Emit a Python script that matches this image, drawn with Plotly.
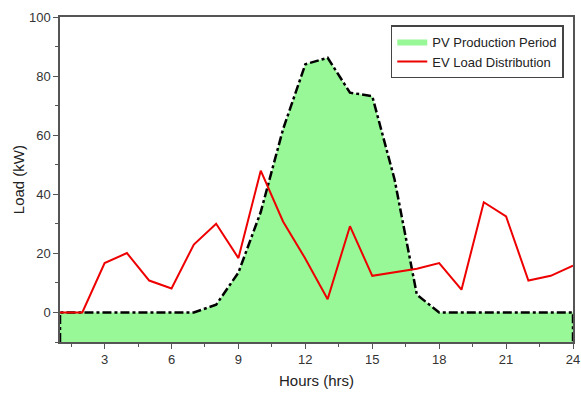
import plotly.graph_objects as go

hours = list(range(1, 25))
pv_load = [0, 0, 0, 0, 0, 0, 0, 2.6, 13.5, 34, 62, 84, 86.2, 74.4, 73.2, 45, 6, 0, 0, 0, 0, 0, 0, 0]
ev_load = [0, 0, 16.7, 20.1, 10.8, 8.1, 23, 30, 18.4, 48, 30.8, 18.2, 4.5, 29.2, 12.4, 13.5, 14.8, 16.7, 7.7, 37.3, 32.5, 10.8, 12.4, 15.8]
x_ticks = [3, 6, 9, 12, 15, 18, 21, 24]
y_ticks = [0, 20, 40, 60, 80, 100]
y_min, y_max = -10, 100
x_min, x_max = 1, 24

poly_x = [hours[0]] + hours + [hours[-1]]
poly_y = [y_min] + pv_load + [y_min]

font_fam = "Liberation Sans, Arial"

fig = go.Figure()
fig.add_trace(go.Scatter(
    x=poly_x, y=poly_y, fill="toself", fillcolor="#98f898",
    line=dict(width=0, color="#98f898"), mode="lines",
    name="PV Production Period", hoverinfo="skip"))
fig.add_trace(go.Scatter(
    x=poly_x, y=poly_y, mode="lines",
    line=dict(color="black", width=2.5, dash="dashdot"),
    showlegend=False))
fig.add_trace(go.Scatter(
    x=hours, y=ev_load, mode="lines",
    line=dict(color="#ee0000", width=2),
    name="EV Load Distribution"))

axis_common = dict(
    showgrid=False, zeroline=False, showline=True, linecolor="#555",
    linewidth=1.5, mirror=True, ticks="outside", ticklen=5, tickcolor="#555",
    automargin=False,
    tickfont=dict(family=font_fam, size=13, color="#333"),
)
fig.update_xaxes(range=[x_min, x_max], tickvals=x_ticks,
                 minor=dict(dtick=1.5, tick0=0, ticks="outside", ticklen=3, tickcolor="#555"),
                 **axis_common)
fig.update_yaxes(range=[y_min, y_max], tickvals=y_ticks,
                 minor=dict(dtick=10, tick0=0, ticks="outside", ticklen=3, tickcolor="#555"),
                 **axis_common)
fig.add_annotation(text="Hours (hrs)", xref="paper", yref="paper", x=0.5, y=-0.085,
                   xanchor="center", yanchor="top", showarrow=False,
                   font=dict(family=font_fam, size=15, color="#222"))
fig.add_annotation(text="Load (kW)", xref="paper", yref="paper", x=-0.101, y=0.5,
                   xanchor="left", yanchor="middle", showarrow=False, textangle=-90,
                   font=dict(family=font_fam, size=15, color="#222"))
fig.update_layout(
    width=581, height=394,
    margin=dict(l=60, r=8, t=17, b=52, autoexpand=False),
    plot_bgcolor="white", paper_bgcolor="white",
    legend=dict(x=0.982, y=0.975, xanchor="right", yanchor="top",
                bgcolor="white", bordercolor="#444", borderwidth=1.5,
                font=dict(family=font_fam, size=13, color="#222"),
                tracegroupgap=0, itemwidth=30),
    showlegend=True,
)
fig.write_html("out.html", config={"displayModeBar": False},
               post_script="document.body.style.margin='0';document.body.style.overflow='hidden';")
